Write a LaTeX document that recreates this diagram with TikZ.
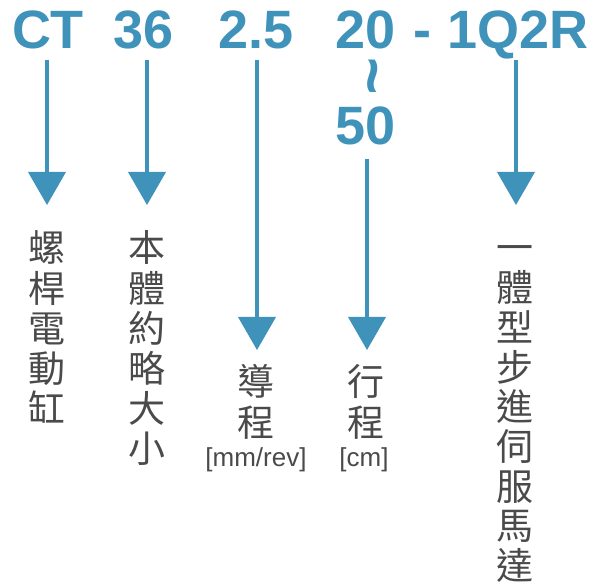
\documentclass[tikz,border=0pt]{standalone}
\usepackage{fontspec}
\setmainfont{Liberation Sans}
\newfontfamily\cjk{Noto Sans CJK TC}
\usetikzlibrary{arrows.meta}
\definecolor{codeblue}{HTML}{3F92BA}
\definecolor{labelgray}{HTML}{4A4A4A}
\begin{document}
\begin{tikzpicture}[x=1pt,y=1pt,
  code/.style={inner sep=0pt, anchor=base, text=codeblue, font=\fontsize{54}{60}\selectfont\bfseries},
  vlabel/.style={inner sep=0pt, anchor=base, text=labelgray, text width=40pt, align=center,
    font=\cjk\fontsize{37}{40.1}\selectfont},
  longlabel/.style={vlabel, font=\cjk\fontsize{37}{39.7}\selectfont},
  unit/.style={inner sep=0pt, anchor=base, text=labelgray, font=\fontsize{26}{30}\selectfont},
  arr/.style={draw=codeblue, line width=4.5pt, -{Triangle[width=38pt,length=33pt,line width=0pt]}, fill=codeblue}]
\useasboundingbox (0,0) rectangle (600,584);
% code parts
\node[code] (ct)  at (48,535)  {CT};
\node[code] (n36) at (144,535) {36};
\node[code] (n25) at (256,535) {2.5};
\node[code] (n20) at (366,535) {20};
\node[code] (dash) at (422,535) {-};
\node[code] (q)   at (518,535) {1Q2R};
\node[inner sep=0pt, text=codeblue, rotate=-90, font=\fontsize{64}{66}\selectfont\bfseries] (tl) at (365,508) {\char`\~};
\node[code] (n50) at (366,439) {50};
% labels
\node[vlabel] (l1) at (47,322)  {螺\\桿\\電\\動\\缸};
\node[vlabel] (l2) at (147,322) {本\\體\\約\\略\\大\\小};
\node[vlabel] (l3) at (256,188) {導\\程};
\node[vlabel] (l4) at (366,188) {行\\程};
\node[longlabel] (l5) at (515,322) {一\\體\\型\\步\\進\\伺\\服\\馬\\達};
\node[unit] (u3) at (256,117) {[mm/rev]};
\node[unit] (u4) at (364,117) {[cm]};
% arrow ends
\coordinate (s1) at (47,524);  \coordinate (e1) at (47,379);
\coordinate (s2) at (147,524); \coordinate (e2) at (147,379);
\coordinate (s3) at (257,524); \coordinate (e3) at (257,234);
\coordinate (s4) at (367,425); \coordinate (e4) at (367,234);
\coordinate (s5) at (516,524); \coordinate (e5) at (516,379);
\draw[arr] (s1) -- (e1);
\draw[arr] (s2) -- (e2);
\draw[arr] (s3) -- (e3);
\draw[arr] (s4) -- (e4);
\draw[arr] (s5) -- (e5);
\end{tikzpicture}
\end{document}
